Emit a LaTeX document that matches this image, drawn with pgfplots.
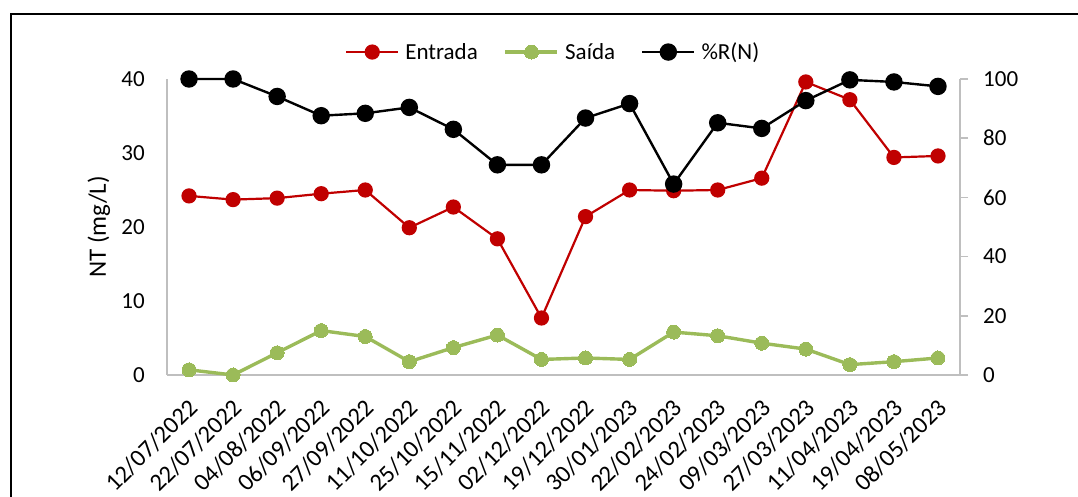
\documentclass[border=0pt]{standalone}
\usepackage{fontspec}
\setmainfont{Carlito}
\usepackage{pgfplots}
\pgfplotsset{compat=1.18}
\definecolor{cred}{RGB}{192,0,0}
\definecolor{cgreen}{RGB}{155,187,89}
\definecolor{cgray}{RGB}{191,191,191}

\pgfplotstableread{
x E S R
0 24.2 0.7 100
1 23.7 0.0 100
2 23.9 3.0 94.1
3 24.5 6.0 87.6
4 25.0 5.2 88.4
5 19.9 1.8 90.4
6 22.7 3.7 83.0
7 18.4 5.4 71.0
8 7.7 2.1 71.0
9 21.4 2.3 86.8
10 25.0 2.1 91.7
11 24.9 5.8 64.5
12 25.0 5.3 85.2
13 26.6 4.3 83.3
14 39.6 3.5 92.7
15 37.2 1.4 99.7
16 29.4 1.8 99.0
17 29.6 2.3 97.5
}\data

\begin{document}
\begin{tikzpicture}[x=1bp,y=1bp,font=\fontsize{23bp}{28bp}\selectfont]
\path[use as bounding box] (0,0) rectangle (1078,497);
\draw[line width=2.5bp] (11,-10) -- (11,483) -- (1090,483);
\begin{axis}[
  at={(167bp,122bp)}, anchor=south west,
  scale only axis, width=793bp, height=296bp,
  xmin=-0.5, xmax=17.5, ymin=0, ymax=40,
  ytick={0,10,20,30,40},
  xtick={0,...,17},
  xticklabels={12/07/2022,22/07/2022,04/08/2022,06/09/2022,27/09/2022,11/10/2022,25/10/2022,15/11/2022,02/12/2022,19/12/2022,30/01/2023,22/02/2023,24/02/2023,09/03/2023,27/03/2023,11/04/2023,19/04/2023,08/05/2023},
  axis x line*=bottom, axis y line*=left,
  axis line style={cgray, line width=1.5bp},
  major tick length=0pt,
  /pgf/number format/assume math mode=true,
  tick label style={font=\fontsize{23bp}{28bp}\selectfont},
  yticklabel style={inner sep=0pt, xshift=-22bp},
  xticklabel style={font=\fontsize{24.5bp}{28bp}\selectfont, inner sep=0pt, xshift=-2bp, yshift=-22bp, rotate=45, anchor=north east},
  ylabel={NT (mg/L)},
  ylabel style={font=\fontsize{25bp}{30bp}\selectfont, at={(axis description cs:-0.086,0.5)}, anchor=center},
  clip=false,
]
\addplot[cred, line width=2.2bp, mark=*, mark size=6.5bp, mark options={solid, fill=cred, draw=cred}] table[x=x,y=E]{\data};
\addplot[cgreen, line width=3.4bp, mark=*, mark size=7bp, mark options={solid, fill=cgreen, draw=cgreen, line width=0pt}] table[x=x,y=S]{\data};
\end{axis}
\begin{axis}[
  at={(167bp,122bp)}, anchor=south west,
  scale only axis, width=793bp, height=296bp,
  xmin=-0.5, xmax=17.5, ymin=0, ymax=100,
  ytick={0,20,40,60,80,100},
  xtick=\empty,
  axis x line=none, axis y line*=right,
  axis line style={cgray, line width=1.5bp},
  tick align=outside, major tick length=8bp,
  ytick style={cgray, line width=1.5bp},
  /pgf/number format/assume math mode=true,
  tick label style={font=\fontsize{23bp}{28bp}\selectfont},
  yticklabel style={inner sep=0pt, xshift=15bp},
  clip=false,
  legend columns=3,
  legend style={draw=none, fill=none, at={(axis description cs:0.487,1.091)}, anchor=center,
    font=\fontsize{23bp}{28bp}\selectfont,
    /tikz/every odd column/.append style={column sep=4bp},
    /tikz/every even column/.append style={column sep=24bp}},
  legend image code/.code={\draw[mark repeat=2,mark phase=2] plot coordinates {(0bp,0bp)(26bp,0bp)(52bp,0bp)};},
]
\addlegendimage{cred, line width=2.2bp, mark=*, mark size=6.5bp, mark options={solid, fill=cred, draw=cred}}
\addlegendentry{Entrada}
\addlegendimage{cgreen, line width=3.4bp, mark=*, mark size=7bp, mark options={solid, fill=cgreen, draw=cgreen, line width=0pt}}
\addlegendentry{Saída}
\addplot[black, line width=2.4bp, mark=*, mark size=7.5bp, mark options={solid, fill=black}] table[x=x,y=R]{\data};
\addlegendentry{\%R(N)}
\end{axis}
\end{tikzpicture}
\end{document}
